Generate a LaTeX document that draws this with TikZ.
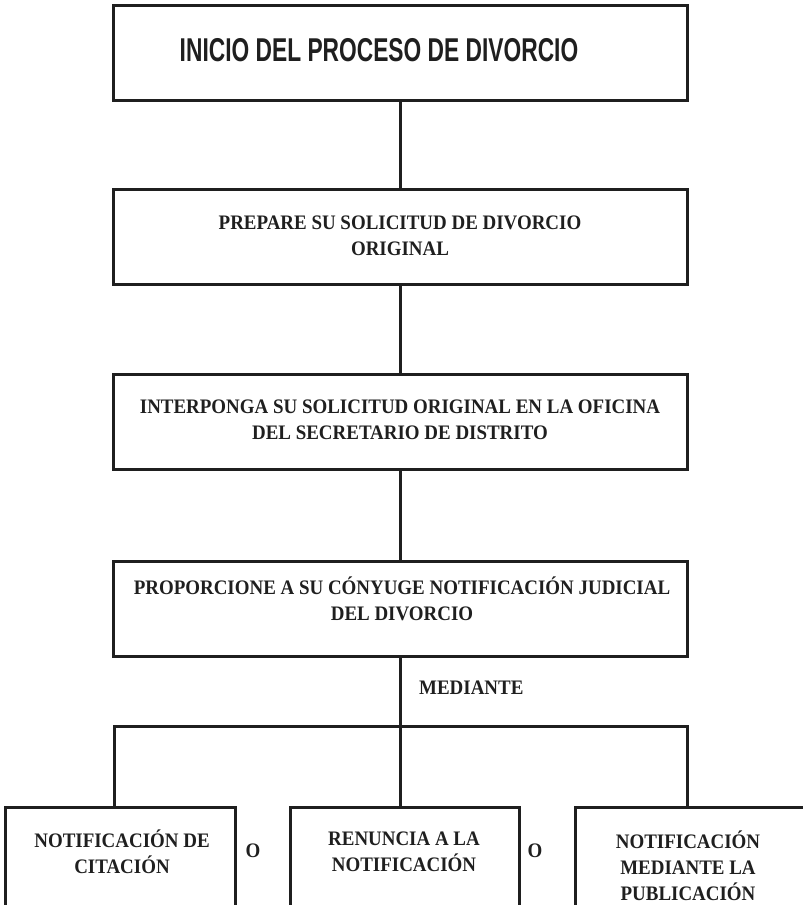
\documentclass[tikz,border=0pt]{standalone}
\usepackage{fontspec}
\setmainfont[FakeStretch=0.92]{Liberation Serif}
\newfontfamily\hdrfont[FakeStretch=0.69]{Liberation Sans}
\begin{document}
\begin{tikzpicture}[x=1pt,y=-1pt,
  box/.style={draw=black!88, line width=3pt, minimum width=574pt, minimum height=95pt, inner sep=0pt},
  sbox/.style={draw=black!88, line width=3pt, inner sep=0pt},
  conn/.style={draw=black!88, line width=3pt},
  txt/.style={font=\fontsize{20.6}{26}\selectfont\bfseries, align=center, inner sep=0pt, text=black!88},
  hdr/.style={font=\hdrfont\fontsize{33}{38}\selectfont\bfseries, inner sep=0pt, text=black!88}]
\useasboundingbox (0,0) rectangle (803,905);
\clip (0,0) rectangle (803,905);
% main boxes
\node[box] (b1) at (400,52.5) {};
\node[box] (b2) at (400,236.5) {};
\node[box] (b3) at (400,421.5) {};
\node[box] (b4) at (400,608.5) {};
\node[hdr] (t1) at (379,50) {INICIO DEL PROCESO DE DIVORCIO};
\node[txt] (t2) at (400,236) {PREPARE SU SOLICITUD DE DIVORCIO\\ORIGINAL};
\node[txt] (t3) at (400,420) {INTERPONGA SU SOLICITUD ORIGINAL EN LA OFICINA\\DEL SECRETARIO DE DISTRITO};
\node[txt] (t4) at (402,599) {PROPORCIONE A SU CÓNYUGE NOTIFICACIÓN JUDICIAL\\DEL DIVORCIO};
% bottom boxes (open at bottom of page)
\node[sbox, minimum width=230pt, minimum height=120pt] (c1) at (120,867) {};
\node[sbox, minimum width=229pt, minimum height=120pt] (c2) at (404.5,867) {};
\node[sbox, minimum width=250pt, minimum height=120pt] (c3) at (700,867) {};
\node[txt] (u1) at (122,852) {NOTIFICACIÓN DE\\CITACIÓN};
\node[txt] (u2) at (404,852) {RENUNCIA A LA\\NOTIFICACIÓN};
\node[txt] (u3) at (688,865.5) {NOTIFICACIÓN\\MEDIANTE LA\\PUBLICACIÓN};
\node[txt] (o1) at (253,851) {O};
\node[txt] (o2) at (535,851) {O};
\node[txt, anchor=west] (m) at (419,688) {MEDIANTE};
% connectors
\coordinate (j) at (400,726);
\draw[conn] (b1.south) -- (b2.north);
\draw[conn] (b2.south) -- (b3.north);
\draw[conn] (b3.south) -- (b4.south |- b4.north);
\draw[conn] (b4.south) -- (j);
\draw[conn] (j) -- (114,726) coordinate (jl) -- (jl |- c1.north);
\draw[conn] (j) -- (687,726) coordinate (jr) -- (jr |- c3.north);
\draw[conn] (j) -- (j |- c2.north);
\end{tikzpicture}
\end{document}
